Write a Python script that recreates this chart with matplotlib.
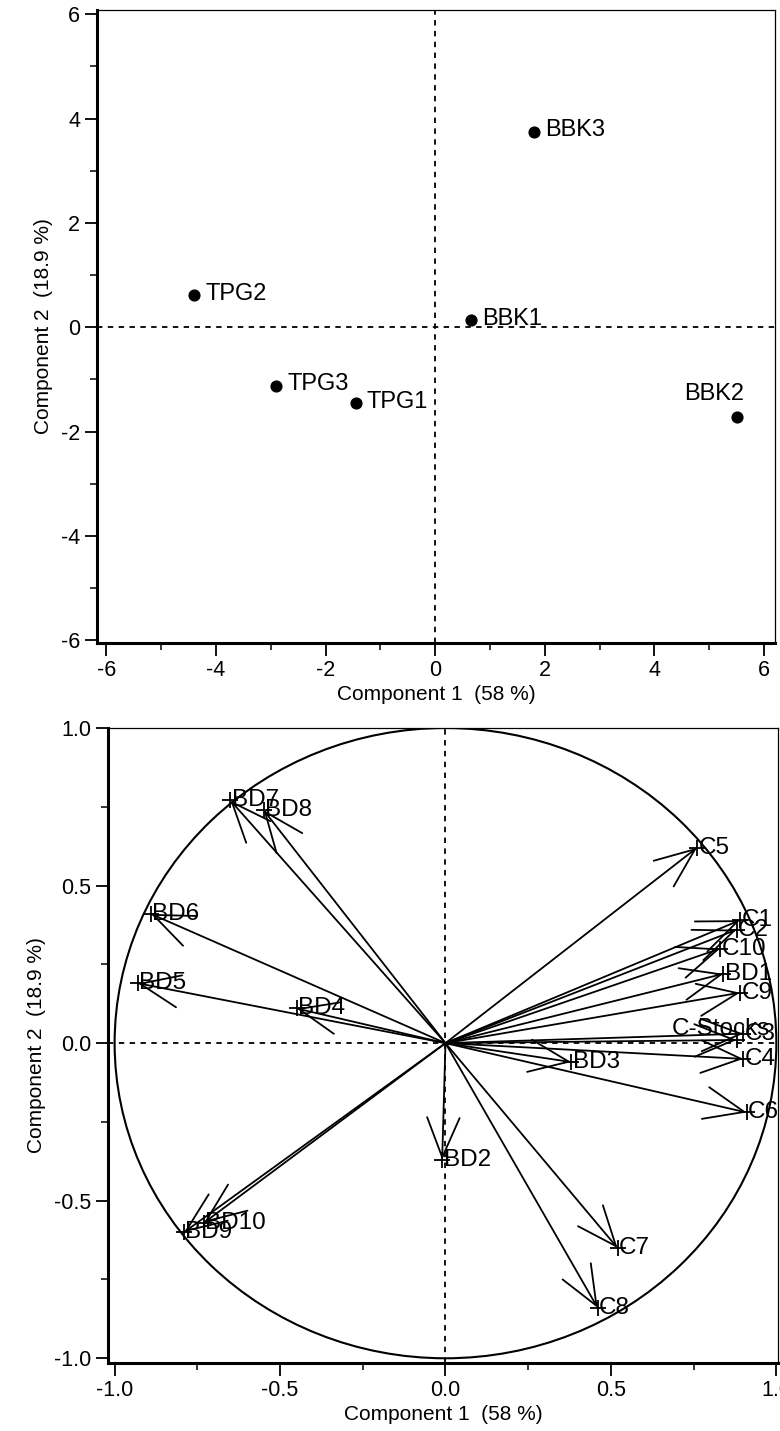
import numpy as np
import matplotlib.pyplot as plt
from matplotlib.ticker import MultipleLocator
from matplotlib.patches import Circle

plt.rcParams['font.family'] = ['Liberation Sans', 'DejaVu Sans']

# scores
obs = ['BBK3', 'TPG2', 'BBK1', 'TPG3', 'TPG1', 'BBK2']
pc1 = [1.8, -4.4, 0.65, -2.9, -1.45, 5.5]
pc2 = [3.75, 0.62, 0.13, -1.12, -1.45, -1.72]

# loadings
var = ['BD7', 'BD8', 'C5', 'BD6', 'BD5', 'BD4', 'C1', 'C2', 'C10', 'BD1',
       'C9', 'C-Stocks', 'C3', 'C4', 'BD3', 'C6', 'BD2', 'C7', 'C8', 'BD10', 'BD9']
load1 = [-0.65, -0.55, 0.76, -0.89, -0.93, -0.45, 0.89, 0.88, 0.83, 0.84,
         0.89, 0.88, 0.90, 0.90, 0.38, 0.91, -0.01, 0.52, 0.46, -0.73, -0.79]
load2 = [0.77, 0.74, 0.62, 0.41, 0.19, 0.11, 0.39, 0.36, 0.30, 0.22,
         0.16, 0.01, 0.03, -0.05, -0.06, -0.22, -0.37, -0.65, -0.84, -0.57, -0.60]

W, H = 780, 1431
fig = plt.figure(figsize=(W / 100, H / 100), dpi=100)

def box(l, t, r, b):
    return [l / W, 1 - b / H, (r - l) / W, (b - t) / H]

def style(ax, major, minor):
    ax.xaxis.set_major_locator(MultipleLocator(major))
    ax.yaxis.set_major_locator(MultipleLocator(major))
    ax.xaxis.set_minor_locator(MultipleLocator(minor))
    ax.yaxis.set_minor_locator(MultipleLocator(minor))
    ax.tick_params(which='major', direction='out', length=9, width=1.3,
                   labelsize=15.5, pad=3)
    ax.tick_params(which='minor', direction='out', length=5, width=1.1)
    for s in ['left', 'bottom']:
        ax.spines[s].set_linewidth(2.2)
    for s in ['top', 'right']:
        ax.spines[s].set_linewidth(0.9)
    ax.axhline(0, color='black', lw=1.3, ls=(0, (3, 3)), zorder=1)
    ax.axvline(0, color='black', lw=1.3, ls=(0, (3, 3)), zorder=1)
    ax.set_xlabel('Component 1  (58 %)', fontsize=15, labelpad=3)
    ax.set_ylabel('Component 2  (18.9 %)', fontsize=15, labelpad=6)

# top: scores
ax1 = fig.add_axes(box(97, 10, 775, 643))
ax1.set_xlim(-6.17, 6.2)
ax1.set_ylim(-6.05, 6.08)
style(ax1, 2, 1)
ax1.xaxis.set_major_formatter(lambda v, p: f'{v:g}')
ax1.yaxis.set_major_formatter(lambda v, p: f'{v:g}')
ax1.scatter(pc1, pc2, s=60, color='black', zorder=3)
for n, x, y in zip(obs, pc1, pc2):
    if n == 'BBK2':
        ax1.annotate(n, (x, y), xytext=(-16, 9), textcoords='offset points',
                     ha='center', va='bottom', fontsize=17)
    else:
        ax1.annotate(n, (x, y), xytext=(8, 1), textcoords='offset points',
                     ha='left', va='center', fontsize=17)

# bottom: loadings
ax2 = fig.add_axes(box(108, 728, 778, 1363))
ax2.set_xlim(-1.02, 1.005)
ax2.set_ylim(-1.015, 1.0)
style(ax2, 0.5, 0.25)
ax2.xaxis.set_major_formatter(lambda v, p: f'{v:.1f}')
ax2.yaxis.set_major_formatter(lambda v, p: f'{v:.1f}')
ax2.add_patch(Circle((0, 0), 1, fill=False, color='black', lw=1.5))
for n, x, y in zip(var, load1, load2):
    ax2.annotate('', xy=(x, y), xytext=(0, 0),
                 arrowprops=dict(arrowstyle='->,head_length=1.1,head_width=0.45',
                                 mutation_scale=26, color='black', lw=1.3,
                                 shrinkA=0, shrinkB=0))
    ax2.plot(x, y, marker='+', color='black', ms=11, mew=1.3)
    if n == 'C-Stocks':
        ax2.annotate(n, (x, y), xytext=(24, 8), textcoords='offset points',
                     ha='right', va='center', fontsize=17.5)
    else:
        ax2.annotate(n, (x, y), xytext=(1, 0), textcoords='offset points',
                     ha='left', va='center', fontsize=17.5)

fig.savefig('out.png', dpi=100)
